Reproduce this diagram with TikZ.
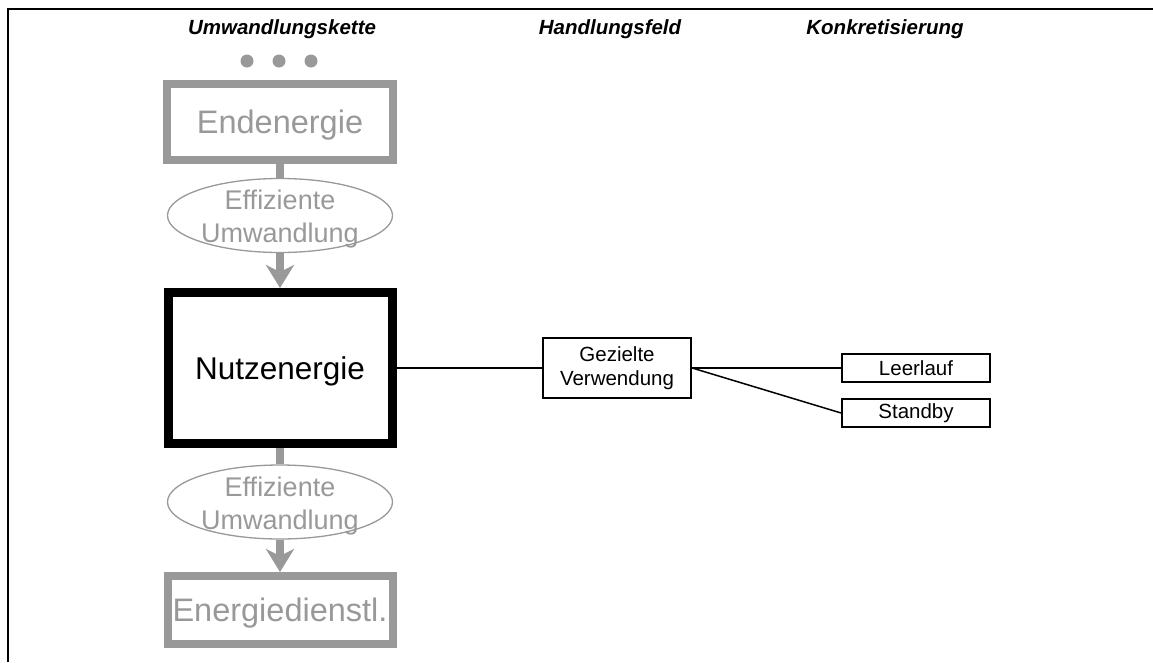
\documentclass[tikz,border=0pt]{standalone}
\usepackage{fontspec}
\setmainfont{Liberation Sans}
\usetikzlibrary{arrows.meta,shapes.geometric}
\definecolor{chaingray}{HTML}{999999}

\begin{document}
\begin{tikzpicture}[x=1pt,y=-1pt,
  header/.style={font=\fontsize{20.5}{24}\selectfont\bfseries\itshape, anchor=base, inner sep=0},
  greybox/.style={draw=chaingray, line width=8pt, fill=white, text=chaingray,
    font=\fontsize{32.5}{38}\selectfont, inner sep=0, text height=23pt, text depth=0pt},
  mainbox/.style={draw=black, line width=9pt, fill=white,
    font=\fontsize{31.5}{38}\selectfont, inner sep=0, text height=22.5pt, text depth=0pt},
  effell/.style={ellipse, draw=chaingray, line width=1.3pt, fill=white,
    minimum width=225pt, minimum height=74pt, inner sep=0},
  efftext/.style={text=chaingray, font=\fontsize{27}{33}\selectfont, align=center, inner sep=0},
  shaft/.style={draw=chaingray, line width=8pt},
  flowarrow/.style={shaft, -{Stealth[length=23pt,width=28pt,inset=7pt]}},
  smallbox/.style={draw=black, line width=1.8pt, fill=white,
    font=\fontsize{20.5}{24}\selectfont, inner sep=0, align=center},
  link/.style={draw=black, line width=1.5pt},
  chaindot/.style={circle, fill=chaingray, minimum size=13pt, inner sep=0},
]
% canvas
\useasboundingbox (0,0) rectangle (1153,662);
\fill[white] (0,0) rectangle (1153,662);
\draw[line width=2pt] (8,662) -- (8,8.5) -- (1153,8.5);

% column headings
\node[header] (h1) at (282,34) {Umwandlungskette};
\node[header] (h2) at (610,34) {Handlungsfeld};
\node[header] (h3) at (885,34) {Konkretisierung};

% continuation dots
\node[chaindot] (d1) at (247,61) {};
\node[chaindot] (d2) at (279,61) {};
\node[chaindot] (d3) at (311,61) {};

% conversion chain
\node[greybox, minimum width=226pt, minimum height=76pt] (ende) at (280,122) {Endenergie};
\node[effell] (e1) at (280,215.5) {};
\node[efftext] (t1) at ([yshift=-4pt]e1.center) {Effiziente\\Umwandlung};
\node[mainbox, minimum width=224pt, minimum height=151pt] (nutz) at (280,368) {Nutzenergie};
\node[effell] (e2) at (280,502) {};
\node[efftext] (t2) at ([yshift=-4pt]e2.center) {Effiziente\\Umwandlung};
\node[greybox, minimum width=225pt, minimum height=68pt] (dienst) at (280,610) {Energiedienstl.};

\draw[shaft] (ende.south) -- (e1.north);
\draw[flowarrow] (e1.south) -- (nutz.north);
\draw[shaft] (nutz.south) -- (e2.north);
\draw[flowarrow] (e2.south) -- (dienst.north);

% field of action and its specification
\node[smallbox, minimum width=148.5pt, minimum height=60.5pt] (gez) at (617,368) {Gezielte\\Verwendung};
\node[smallbox, minimum width=148pt, minimum height=28pt] (leer) at (916,368) {Leerlauf};
\node[smallbox, minimum width=148pt, minimum height=28pt] (stand) at (916,413) {Standby};

\draw[link] (nutz.east) -- (gez.west);
\draw[link] (gez.east) -- (leer.west);
\draw[link] (gez.east) -- (stand.west);
\end{tikzpicture}
\end{document}
